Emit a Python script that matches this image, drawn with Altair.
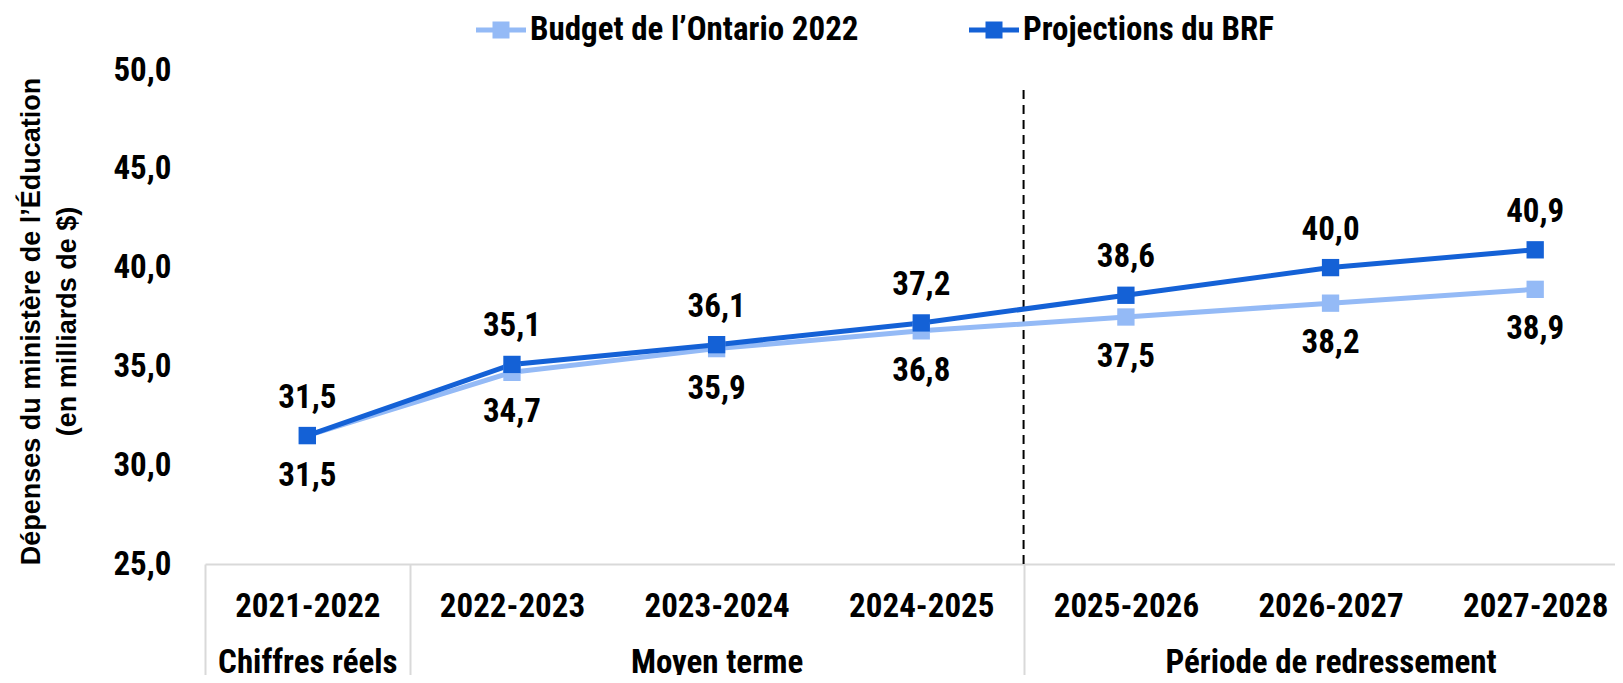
import altair as alt
import pandas as pd

categories = ["2021-2022", "2022-2023", "2023-2024", "2024-2025", "2025-2026", "2026-2027", "2027-2028"]
budget = [31.5, 34.7, 35.9, 36.8, 37.5, 38.2, 38.9]
brf = [31.5, 35.1, 36.1, 37.2, 38.6, 40.0, 40.9]
series_names = ["Budget de l’Ontario 2022", "Projections du BRF"]
series_colors = ["#94BAF6", "#1461D6"]
groups = ["Chiffres réels", "Moyen terme", "Période de redressement"]
group_centers = [0, 2, 5]
separators = [-0.5, 0.5, 3.5]
divider_x = 3.5
divider_top = 49.0

NARROW = "Liberation Sans Narrow, Arial Narrow, Roboto Condensed, sans-serif"
WIDE = "Liberation Sans, Arial, sans-serif"

rows = []
for i, c in enumerate(categories):
    rows.append({"idx": i, "cat": c, "series": series_names[0], "value": budget[i]})
for i, c in enumerate(categories):
    rows.append({"idx": i, "cat": c, "series": series_names[1], "value": brf[i]})
df = pd.DataFrame(rows)
df["label"] = df["value"].map(lambda v: f"{v:.1f}".replace(".", ","))

xscale = alt.Scale(domain=[-0.5, 6.39], nice=False, zero=False)
yscale = alt.Scale(domain=[25, 50], nice=False, zero=False)
cscale = alt.Scale(domain=series_names, range=series_colors)

cat_expr = "[" + ",".join(f"'{c}'" for c in categories) + "][datum.value]"
grp_expr = "{" + ",".join(f"'{k}':'{g}'" for k, g in zip(group_centers, groups)) + "}[datum.value]"

yaxis = alt.Axis(
    values=[25, 30, 35, 40, 45, 50],
    labelExpr="replace(format(datum.value, '.1f'), '.', ',')",
    grid=False, domain=False, ticks=False,
    labelFont=NARROW, labelFontWeight="bold", labelFontSize=33, labelColor="black",
    labelPadding=34,
    title=["Dépenses du ministère de l’Éducation", "(en milliards de $)"],
    titleFont=WIDE, titleFontWeight="bold", titleFontSize=27, titleColor="black",
    titleLineHeight=36, titleAngle=-90, titleAlign="center", titleBaseline="middle",
    titleX=-174, titleY=251,
)

xaxis_main = alt.Axis(
    orient="bottom",
    values=list(range(len(categories))), labelExpr=cat_expr,
    grid=False, ticks=False, domain=True, domainColor="#d9d9d9", domainWidth=2,
    labelFont=NARROW, labelFontWeight="bold", labelFontSize=33, labelColor="black",
    labelPadding=26, labelAngle=0, title=None, labelLimit=1000,
)

symbol_path = ("M-1,-0.1L1,-0.1L1,0.1L-1,0.1Z "
               "M-0.34,-0.34L0.34,-0.34L0.34,0.34L-0.34,0.34Z")

legend = alt.Legend(
    title=None, orient="none", direction="horizontal",
    legendX=271, legendY=-65,
    symbolType=symbol_path, symbolSize=2500, symbolStrokeWidth=0,
    symbolOpacity=1,
    labelFont=NARROW, labelFontWeight="bold", labelFontSize=33, labelColor="black",
    labelOffset=4, columnPadding=110, labelLimit=600, padding=0,
)

line = alt.Chart(df).mark_line(strokeWidth=5).encode(
    x=alt.X("idx:Q", scale=xscale, axis=xaxis_main),
    y=alt.Y("value:Q", scale=yscale, axis=yaxis),
    color=alt.Color("series:N", scale=cscale, legend=legend),
    detail="series:N",
)

points = alt.Chart(df).mark_point(shape="square", filled=True, size=300, opacity=1).encode(
    x=alt.X("idx:Q", scale=xscale, axis=None),
    y=alt.Y("value:Q", scale=yscale),
    color=alt.Color("series:N", scale=cscale, legend=legend),
)

text_top = alt.Chart(df).transform_filter(
    alt.datum.series == series_names[1]
).mark_text(font=NARROW, fontWeight="bold", fontSize=33, dy=-38, baseline="middle", color="black").encode(
    x=alt.X("idx:Q", scale=xscale, axis=None),
    y=alt.Y("value:Q", scale=yscale),
    text="label:N",
)

text_bot = alt.Chart(df).transform_filter(
    alt.datum.series == series_names[0]
).mark_text(font=NARROW, fontWeight="bold", fontSize=33, dy=40, baseline="middle", color="black").encode(
    x=alt.X("idx:Q", scale=xscale, axis=None),
    y=alt.Y("value:Q", scale=yscale),
    text="label:N",
)

div_df = pd.DataFrame({"x": [divider_x], "y": [25.0], "y2": [divider_top]})
divider = alt.Chart(div_df).mark_rule(color="black", strokeWidth=2, strokeDash=[9, 6]).encode(
    x=alt.X("x:Q", scale=xscale, axis=None),
    y=alt.Y("y:Q", scale=yscale),
    y2="y2:Q",
)

grp_df = pd.DataFrame({"x": group_centers, "g": groups})
grp_axis = alt.Chart(grp_df).mark_point(opacity=0).encode(
    x=alt.X("x:Q", scale=xscale, axis=alt.Axis(
        orient="bottom",
        values=group_centers, labelExpr=grp_expr, grid=False, ticks=False, domain=False,
        labelFont=NARROW, labelFontWeight="bold", labelFontSize=33, labelColor="black",
        labelPadding=82, labelAngle=0, title=None, labelLimit=1000,
    )),
)

sep_df = pd.DataFrame({"x": separators})
sep_axis = alt.Chart(sep_df).mark_point(opacity=0).encode(
    x=alt.X("x:Q", scale=xscale, axis=alt.Axis(
        orient="bottom",
        values=separators, labels=False, grid=False, ticks=True, tickSize=125,
        tickColor="#d9d9d9", tickWidth=2, domain=False, title=None,
    )),
)

chart = alt.layer(sep_axis, grp_axis, divider, line, points, text_top, text_bot).resolve_axis(
    x="independent"
).properties(
    width=1410, height=494,
    padding={"left": 197, "top": 62, "right": 0, "bottom": 111},
    autosize=alt.AutoSizeParams(type="none"),
).configure(background="white", view=alt.ViewConfig(stroke=None))

chart.save("out.html", embed_options={"renderer": "svg", "actions": False})
